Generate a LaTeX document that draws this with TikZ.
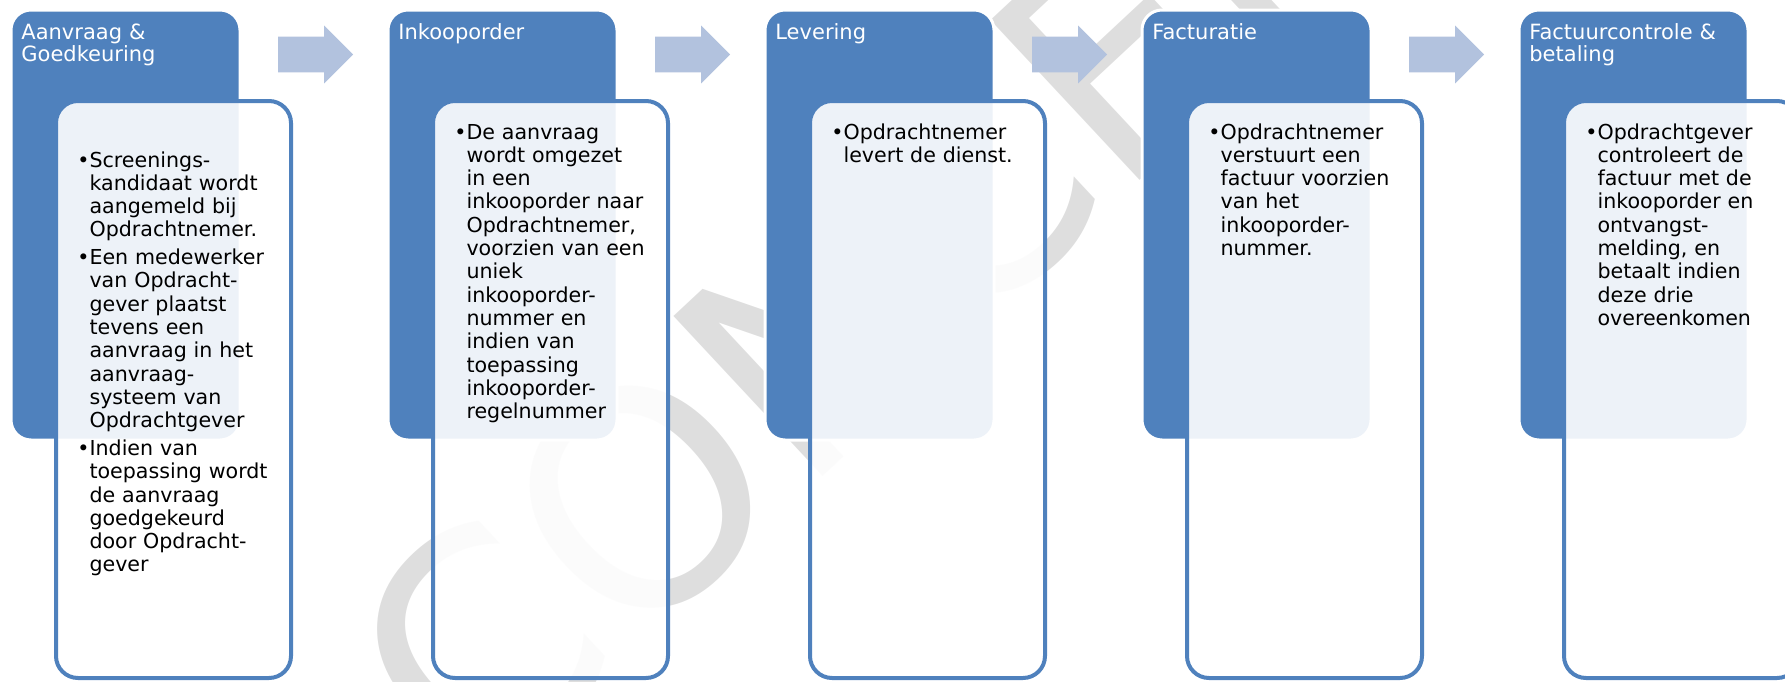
\documentclass[tikz,border=0pt]{standalone}
\usepackage{fontspec}
\setmainfont{DejaVu Sans}
\usetikzlibrary{positioning,shapes.arrows}
\definecolor{accentblue}{RGB}{79,129,189}
\definecolor{arrowblue}{RGB}{178,194,222}
\definecolor{markgray}{RGB}{222,222,222}
\tikzset{
  stagehead/.style={anchor=north west,draw=white,line width=1.5pt,fill=accentblue,rounded corners=10pt,
    minimum width=114.5pt,minimum height=215pt,inner sep=0pt,outer sep=0pt},
  stagebody/.style={anchor=north west,draw=accentblue,line width=2pt,fill=white,fill opacity=0.9,
    rounded corners=11pt,minimum width=117.5pt,minimum height=288.5pt,inner sep=0pt,outer sep=0pt},
  headtext/.style={anchor=base west,inner sep=0pt,text=white,text width=110pt,align=left,
    font=\fontsize{10.5}{11.2}\selectfont},
  bodytext/.style={anchor=base west,inner sep=0pt,text width=110pt,align=left,
    font=\fontsize{10.3}{11.65}\selectfont},
  flowarr/.style={shape=single arrow,fill=arrowblue,anchor=west,minimum height=37.5pt,
    inner xsep=0pt,inner ysep=8.75pt,single arrow head extend=5.5pt,single arrow tip angle=90,
    single arrow head indent=0pt,outer sep=0pt},
  watermark/.style={text=markgray,inner sep=0pt,font=\fontsize{150}{150}\selectfont}
}
\newcommand{\bitem}[1]{\setbox0\hbox{\textbullet}\hangindent=\wd0 \hangafter=1 \noindent\box0 #1\par\parskip=2.2pt\relax}

\begin{document}
\begin{tikzpicture}[x=0.5pt,y=-0.5pt]
  \useasboundingbox (0,0) rectangle (1785,681);
  \clip (0,0) rectangle (1785,681);
  \node[watermark,rotate=43] (concept) at (925,232) {CONCEPT};

  \begin{scope}
  \node[stagehead] (kop1) at (11,10) {};
  \node[stagebody] (vak1) at (56,101) {};
  \node[headtext] (kopt1) at (21,39) {Aanvraag \&\\Goedkeuring};
  \node[bodytext] (tekst1) at (77,167) {%
    \bitem{Screenings-\newline kandidaat wordt\newline aangemeld bij\newline Opdrachtnemer.}%
    \bitem{Een medewerker\newline van Opdracht-\newline gever plaatst\newline tevens een\newline aanvraag in het\newline aanvraag-\newline systeem van\newline Opdrachtgever}%
    \bitem{Indien van\newline toepassing wordt\newline de aanvraag\newline goedgekeurd\newline door Opdracht-\newline gever}};
  \end{scope}

  \begin{scope}[xshift=188.5pt]
  \node[stagehead] (kop2) at (11,10) {};
  \node[stagebody] (vak2) at (56,101) {};
  \node[headtext] (kopt2) at (21,39) {Inkooporder};
  \node[bodytext] (tekst2) at (77,139) {%
    \bitem{De aanvraag\newline wordt omgezet\newline in een\newline inkooporder naar\newline Opdrachtnemer,\newline voorzien van een\newline uniek\newline inkooporder-\newline nummer en\newline indien van\newline toepassing\newline inkooporder-\newline regelnummer}};
  \end{scope}

  \begin{scope}[xshift=377pt]
  \node[stagehead] (kop3) at (11,10) {};
  \node[stagebody] (vak3) at (56,101) {};
  \node[headtext] (kopt3) at (21,39) {Levering};
  \node[bodytext] (tekst3) at (77,139) {%
    \bitem{Opdrachtnemer\newline levert de dienst.}};
  \end{scope}

  \begin{scope}[xshift=565.5pt]
  \node[stagehead] (kop4) at (11,10) {};
  \node[stagebody] (vak4) at (56,101) {};
  \node[headtext] (kopt4) at (21,39) {Facturatie};
  \node[bodytext] (tekst4) at (77,139) {%
    \bitem{Opdrachtnemer\newline verstuurt een\newline factuur voorzien\newline van het\newline inkooporder-\newline nummer.}};
  \end{scope}

  \begin{scope}[xshift=754pt]
  \node[stagehead] (kop5) at (11,10) {};
  \node[stagebody] (vak5) at (56,101) {};
  \node[headtext] (kopt5) at (21,39) {Factuurcontrole \&\\betaling};
  \node[bodytext] (tekst5) at (77,139) {%
    \bitem{Opdrachtgever\newline controleert de\newline factuur met de\newline inkooporder en\newline ontvangst-\newline melding, en\newline betaalt indien\newline deze drie\newline overeenkomen}};
  \end{scope}

  % pijlen tussen de stappen
  \foreach \k in {1,...,4}
    \node[flowarr] (pijl\k) at ([xshift=19pt,yshift=-22.25pt]kop\k.north east) {};
\end{tikzpicture}
\end{document}
